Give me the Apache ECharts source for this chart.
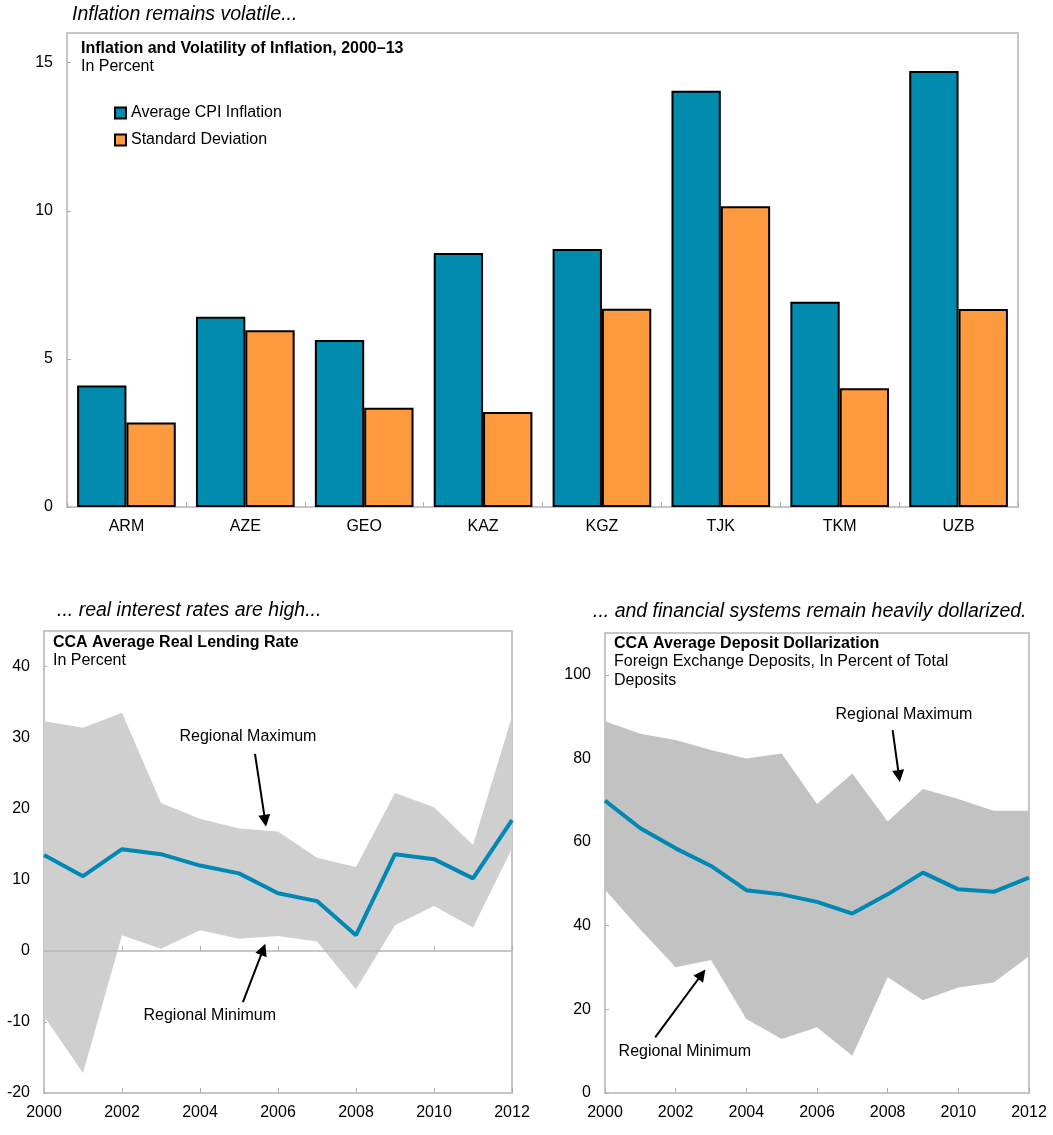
<!DOCTYPE html>
<html><head><meta charset="utf-8">
<script src="https://cdn.jsdelivr.net/npm/echarts/dist/echarts.min.js"></script>
<style>html,body{margin:0;padding:0;background:#fff}#c{width:1053px;height:1135px}</style>
</head><body><div id="c"></div>
<script>
// ---- Data ----
const countries = ['ARM', 'AZE', 'GEO', 'KAZ', 'KGZ', 'TJK', 'TKM', 'UZB'];
const avgInflation = [4.10, 6.42, 5.64, 8.57, 8.71, 14.05, 6.93, 14.72];
const stdDeviation = [2.85, 5.97, 3.35, 3.21, 6.69, 10.15, 4.01, 6.68];

const years = [2000, 2001, 2002, 2003, 2004, 2005, 2006, 2007, 2008, 2009, 2010, 2011, 2012];
const lendingAvg = [13.5, 10.5, 14.3, 13.6, 12.0, 10.9, 8.1, 7.0, 2.2, 13.6, 12.9, 10.2, 18.4];
const lendingMax = [32.3, 31.4, 33.5, 20.8, 18.6, 17.2, 16.8, 13.1, 11.8, 22.2, 20.2, 14.9, 33.0];
const lendingMin = [-9.2, -17.2, 2.2, 0.3, 2.9, 1.7, 2.1, 1.3, -5.4, 3.6, 6.3, 3.3, 14.4];

const dollarAvg = [69.9, 63.3, 58.5, 54.3, 48.5, 47.5, 45.7, 42.9, 47.5, 52.7, 48.7, 48.1, 51.5];
const dollarMax = [88.9, 85.9, 84.4, 82.0, 80.0, 81.2, 69.1, 76.4, 64.9, 72.7, 70.3, 67.5, 67.5];
const dollarMin = [48.6, 39.1, 30.1, 31.8, 17.7, 12.9, 15.7, 8.9, 27.7, 22.2, 25.2, 26.4, 32.7];

const inflationTicks = {min: 0, max: 16, step: 5};
const lendingTicks = {min: -20, max: 45, step: 10};
const dollarTicks = {min: 0, max: 110, step: 20};
const yearTicks = {min: 2000, max: 2012, step: 2};

// ---- Chart ----
const FONT = '"Liberation Sans", Arial, sans-serif';
const BLUE = '#008BAF', ORANGE = '#FF9A3E', LINE = '#0088B4', FRAME = '#C6C6C6';
const chart = echarts.init(document.getElementById('c'), null, {renderer: 'canvas'});

const triples = (xs, a, b) => xs.map((x, i) => [x, a[i], b[i]]);
const pairs = (xs, ys) => xs.map((x, i) => [x, ys[i]]);

const valueY = (t, grid, tickLen) => ({
  type: 'value', gridIndex: grid, min: t.min, max: t.max, interval: t.step,
  axisLine: {show: false}, splitLine: {show: false},
  axisTick: {show: true, inside: true, length: tickLen, lineStyle: {color: '#B0B0B0'}},
  axisLabel: {color: '#000', fontSize: 16, fontFamily: FONT, margin: 14, showMaxLabel: false}
});
const yearX = (grid, extra) => Object.assign({
  type: 'value', gridIndex: grid, min: yearTicks.min, max: yearTicks.max, interval: yearTicks.step,
  position: 'bottom',
  axisLine: {show: false}, splitLine: {show: false},
  axisTick: {show: true, inside: true, length: 5, lineStyle: {color: '#B0B0B0'}},
  axisLabel: {color: '#000', fontSize: 16, fontFamily: FONT, margin: 12, formatter: v => String(v)}
}, extra || {});

const bandSeries = (xi, yi, mins, maxs, color) => ({
  type: 'custom', coordinateSystem: 'cartesian2d', xAxisIndex: xi, yAxisIndex: yi,
  data: triples(years, mins, maxs), encode: {x: 0, y: [1, 2]}, silent: true, z: 1,
  renderItem: (params, api) => {
    if (params.dataIndex !== 0) return null;
    const top = years.map((y, i) => api.coord([y, maxs[i]]));
    const bot = years.map((y, i) => api.coord([y, mins[i]])).reverse();
    return {type: 'polygon', shape: {points: top.concat(bot)}, style: {fill: color}};
  }
});

const arrowLine = (segs) => ({
  silent: true, animation: false, symbol: ['none', 'triangle'], symbolSize: 12,
  label: {show: false}, lineStyle: {color: '#000', width: 2, type: 'solid'},
  emphasis: {disabled: true},
  data: segs.map(s => [{coord: s[0]}, {coord: s[1]}])
});
const textPoints = (items) => ({
  silent: true, animation: false, symbol: 'circle', symbolSize: 1,
  itemStyle: {color: 'rgba(0,0,0,0)'},
  label: {show: true, position: 'inside', formatter: '{b}', color: '#000', fontSize: 16, fontFamily: FONT},
  data: items.map(it => ({name: it[0], coord: it[1]}))
});

const txt = (x, y, text, font) => ({
  type: 'text', x: x, y: y, silent: true,
  style: {text: text, font: font, fill: '#000', verticalAlign: 'middle'}
});

const option = {
  animation: false,
  backgroundColor: '#fff',
  textStyle: {fontFamily: FONT},
  grid: [
    {left: 67, top: 33, width: 951, height: 474, show: true, borderColor: FRAME, borderWidth: 2, containLabel: false, outerBoundsMode: 'none'},
    {left: 44, top: 631, width: 468, height: 462, show: true, borderColor: FRAME, borderWidth: 2, containLabel: false, outerBoundsMode: 'none'},
    {left: 605, top: 633, width: 424, height: 460, show: true, borderColor: FRAME, borderWidth: 2, containLabel: false, outerBoundsMode: 'none'}
  ],
  legend: {
    left: 114, top: 105, padding: 0, orient: 'vertical', itemWidth: 11, itemHeight: 11, itemGap: 11, icon: 'rect',
    textStyle: {fontSize: 16, color: '#000', fontFamily: FONT},
    data: ['Average CPI Inflation', 'Standard Deviation'], selectedMode: false
  },
  xAxis: [
    {type: 'category', gridIndex: 0, data: countries,
     axisLine: {show: false},
     axisTick: {show: true, inside: true, length: 5, lineStyle: {color: '#B0B0B0'}},
     axisLabel: {color: '#000', fontSize: 16, fontFamily: FONT, margin: 12}},
    yearX(1),
    yearX(1, {axisLine: {show: false, onZero: true}, axisLabel: {show: false}, z: 6}),
    yearX(2)
  ],
  yAxis: [
    valueY(inflationTicks, 0, 4),
    valueY(lendingTicks, 1, 3),
    valueY(dollarTicks, 2, 4)
  ],
  series: [
    {type: 'bar', name: 'Average CPI Inflation', xAxisIndex: 0, yAxisIndex: 0, data: avgInflation,
     barGap: '0%', barCategoryGap: '17%',
     itemStyle: {color: BLUE, borderColor: '#000', borderWidth: 2}},
    {type: 'bar', name: 'Standard Deviation', xAxisIndex: 0, yAxisIndex: 0, data: stdDeviation,
     barGap: '0%', barCategoryGap: '17%',
     itemStyle: {color: ORANGE, borderColor: '#000', borderWidth: 2}},

    // Real lending rate band + average
    bandSeries(1, 1, lendingMin, lendingMax, '#CFCFCF'),
    {type: 'line', xAxisIndex: 1, yAxisIndex: 1, data: [], silent: true, z: 3,
     markLine: {silent: true, animation: false, symbol: 'none', label: {show: false},
                lineStyle: {color: '#B4B4B4', width: 1.5, type: 'solid'}, emphasis: {disabled: true},
                data: [{yAxis: 0}]}},
    {type: 'line', xAxisIndex: 1, yAxisIndex: 1, data: pairs(years, lendingAvg), symbol: 'none',
     lineStyle: {color: LINE, width: 4}, z: 5, silent: true,
     markLine: arrowLine([[[2005.41, 27.7], [2005.67, 18.3]], [[2005.10, -7.2], [2005.62, 0.2]]]),
     markPoint: textPoints([['Regional Maximum', [2005.23, 30.1]], ['Regional Minimum', [2004.25, -9.1]]])},

    // Dollarization band + average
    bandSeries(3, 2, dollarMin, dollarMax, '#C2C2C2'),
    {type: 'line', xAxisIndex: 3, yAxisIndex: 2, data: pairs(years, dollarAvg), symbol: 'none',
     lineStyle: {color: LINE, width: 4}, z: 5, silent: true,
     markLine: arrowLine([[[2008.14, 86.8], [2008.32, 75.8]], [[2001.42, 13.3], [2002.74, 28.4]]]),
     markPoint: textPoints([['Regional Maximum', [2008.46, 90.4]], ['Regional Minimum', [2002.26, 9.8]]])}
  ],
  graphic: [
    txt(72, 15, 'Inflation remains volatile...', 'italic 19.5px ' + FONT),
    txt(81, 49, 'Inflation and Volatility of Inflation, 2000–13', 'bold 16px ' + FONT),
    txt(81, 67, 'In Percent', '16px ' + FONT),
    txt(57, 611, '... real interest rates are high...', 'italic 19.5px ' + FONT),
    txt(53, 643, 'CCA Average Real Lending Rate', 'bold 16px ' + FONT),
    txt(53, 661, 'In Percent', '16px ' + FONT),
    txt(593, 612, '... and financial systems remain heavily dollarized.', 'italic 19.5px ' + FONT),
    txt(614, 643.5, 'CCA Average Deposit Dollarization', 'bold 16px ' + FONT),
    txt(614, 662, 'Foreign Exchange Deposits, In Percent of Total', '16px ' + FONT),
    txt(614, 681, 'Deposits', '16px ' + FONT)
  ]
};
chart.setOption(option);
</script>
</body></html>
